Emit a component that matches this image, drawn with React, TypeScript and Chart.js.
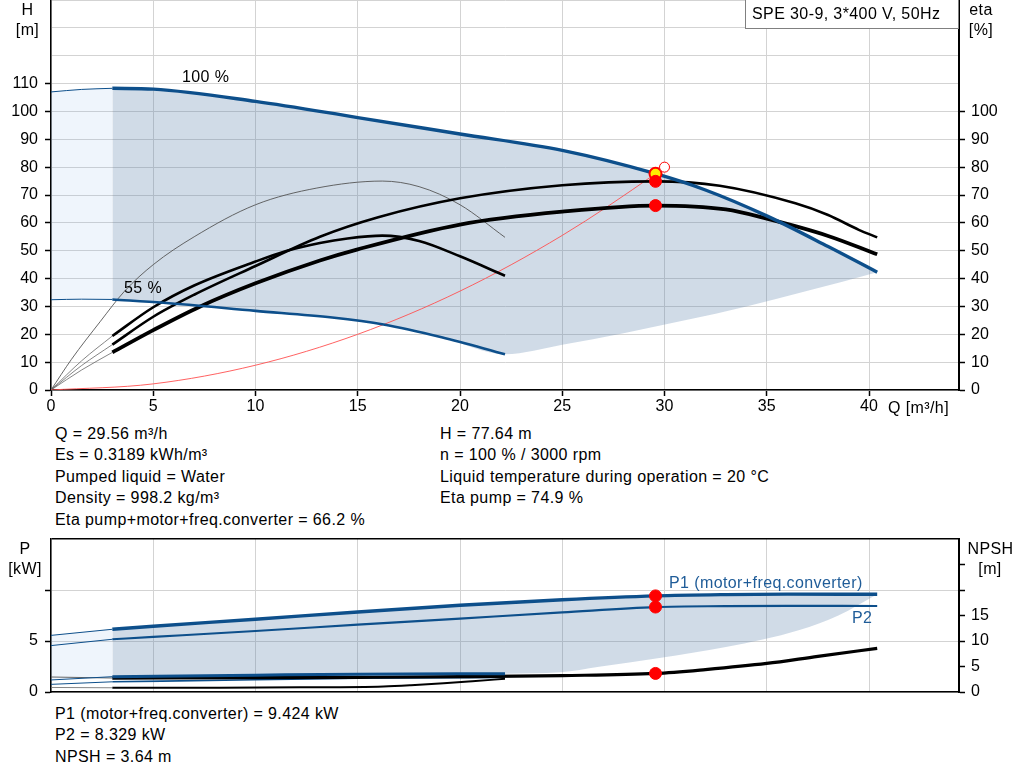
import React, { useEffect, useRef } from "react";
import { Chart, registerables } from "chart.js";

Chart.register(...registerables);

// ---------------- data ----------------
const xTicks = [0, 5, 10, 15, 20, 25, 30, 35, 40];
const hTicks = [0, 10, 20, 30, 40, 50, 60, 70, 80, 90, 100, 110, 120, 130, 140];
const etaTicks = [0, 10, 20, 30, 40, 50, 60, 70, 80, 90, 100];
const pTicks = [0, 5, 10, 15];
const npshTicks = [0, 5, 10, 15, 20, 25, 30];

// H curves
const qH100 = [3, 5, 10, 15, 20, 25, 29.56, 32, 35, 38, 40.4];
const h100 = [108.3, 108, 103.6, 97.8, 91.9, 86, 77.64, 71.8, 62.5, 51.5, 42.3];
const qH100Ext = [0, 1.5, 3];
const h100Ext = [107, 107.9, 108.3];
const qH55 = [3, 5.5, 10, 13.75, 16.26, 19.1, 22.2];
const h55 = [32.5, 31.3, 28.4, 26, 23.5, 18.9, 12.8];
const qH55Ext = [0, 1.5, 3];
const h55Ext = [32.4, 32.6, 32.5];
const qHMin = [22.2, 25, 28, 31, 34, 37, 40.4];
const hMin = [12.8, 16.2, 20.4, 25, 30, 35.6, 42.3];

// eta curves
const qEtaP55 = [0, 1, 2.4, 3.6, 5, 7, 10, 13, 16.2, 18, 20, 22.2];
const etaP55 = [0, 11, 24.5, 35.5, 45, 55, 66.5, 72.5, 75, 73, 66.5, 54.8];
const qEtaT55 = [3, 5, 7, 10, 11.5, 13.15, 14.5, 16.2, 18, 20, 22.2];
const etaT55 = [19.4, 29.7, 37.5, 46.1, 49.9, 52.8, 54.4, 55.4, 53.5, 48, 41];
const qEtaP100 = [3, 5, 7, 10, 13.15, 16, 20, 25, 29.56, 32.7, 36.4, 38, 39.5, 40.4];
const etaP100 = [16.3, 26.3, 34.2, 44.5, 55, 62, 68.8, 73.5, 74.9, 73.3, 67, 62.8, 57.5, 54.8];
const qEtaT100 = [3, 5, 7.3, 10, 13.15, 15, 20, 25, 29.56, 33, 35, 38, 40.4];
const etaT100 = [13.5, 21.5, 30, 38.3, 46.5, 50.5, 59.4, 64, 66.2, 64.8, 61.5, 55.3, 48.7];
const qEtaExt = [0, 1.5, 3];
const etaT55Ext = [0, 10.5, 19.4];
const etaP100Ext = [0, 8.8, 16.3];
const etaT100Ext = [0, 7.2, 13.5];

// system curve
const qSys = [0, 5, 10, 15, 20, 25, 29.56, 30];
const hSys = [0, 2.2, 8.9, 20, 35.5, 55.5, 77.64, 80];

// operating point
const qOp = 29.56;
const hOp = 77.64;
const etaPOp = 74.9;
const etaTOp = 66.2;
const qSysEnd = 30;
const hSysEnd = 80;

// power / NPSH
const qP100 = [3, 5, 10, 15, 20, 25, 29.56, 33, 36, 40.4];
const p1_100 = [6.15, 6.45, 7.13, 7.85, 8.5, 9.05, 9.424, 9.55, 9.6, 9.58];
const p2_100 = [5.17, 5.4, 5.98, 6.6, 7.2, 7.8, 8.329, 8.42, 8.45, 8.43];
const qPExt = [0, 3];
const p1_100Ext = [5.55, 6.15];
const p2_100Ext = [4.55, 5.17];
const qP55 = [3, 10, 15, 22.2];
const p1_55 = [1.5, 1.65, 1.75, 1.8];
const p2_55 = [1.0, 1.2, 1.35, 1.42];
const p1_55Ext = [1.18, 1.5];
const p2_55Ext = [0.75, 1.0];
const qPMin = [22.2, 24.9, 26.8, 29.75, 33, 36.6, 38.5, 40.4];
const pMin = [1.8, 1.93, 2.48, 3.33, 4.4, 6.08, 7.5, 9.58];
const qNpsh100 = [3, 10, 15, 20, 25, 29.56, 32, 35, 37.5, 40.4];
const npsh100 = [2.74, 2.8, 2.88, 3.0, 3.22, 3.64, 4.4, 5.6, 7.0, 8.55];
const npsh100Ext = [2.94, 2.74];
const qNpsh55 = [3, 8, 12.2, 16.26, 17.6, 19.2, 20.6, 22.2];
const npsh55 = [0.83, 0.85, 0.92, 1.1, 1.33, 1.7, 2.1, 2.59];
const npsh55Ext = [0.89, 0.83];
const p1Op = 9.424;
const p2Op = 8.329;
const npshOp = 3.64;

const infoLeft = [
  "Q = 29.56 m³/h",
  "Es = 0.3189 kWh/m³",
  "Pumped liquid = Water",
  "Density = 998.2 kg/m³",
  "Eta pump+motor+freq.converter = 66.2 %",
];
const infoRight = [
  "H = 77.64 m",
  "n = 100 % / 3000 rpm",
  "Liquid temperature during operation = 20 °C",
  "Eta pump = 74.9 %",
];
const infoBottom = [
  "P1 (motor+freq.converter) = 9.424 kW",
  "P2 = 8.329 kW",
  "NPSH = 3.64 m",
];

// ---------------- styling ----------------
const FONT = "'Liberation Sans', Arial, Helvetica, sans-serif";
const BLUE = "#0d4f8b";
const LABEL_BLUE = "#1f5c98";
const SHADE = "rgba(90,130,170,0.285)";
const LIGHT = "rgba(120,170,230,0.12)";
const GRID = "#d3d3d3";
const RED = "#ff0000";
const tickFont = { family: FONT, size: 16 };

const pts = (xs: number[], ys: number[]) => xs.map((x, i) => ({ x, y: ys[i] }));

function lineDs(data: any[], color: string, width: number, yAxisID = "y", order = 5, extra: any = {}) {
  return {
    type: "line",
    data,
    yAxisID,
    borderColor: color,
    backgroundColor: color,
    borderWidth: width,
    pointRadius: 0,
    pointHoverRadius: 0,
    fill: false,
    cubicInterpolationMode: "monotone",
    order,
    ...extra,
  };
}

function hiddenDs(data: any[], yAxisID: string, fill: any, color: string | undefined, order: number) {
  return {
    type: "line",
    data,
    yAxisID,
    borderColor: "rgba(0,0,0,0)",
    backgroundColor: color || "rgba(0,0,0,0)",
    borderWidth: 1,
    pointRadius: 0,
    pointHoverRadius: 0,
    fill,
    cubicInterpolationMode: "monotone",
    order,
  };
}

function pointDs(x: number, y: number, yAxisID: string, fillColor: string, radius = 6, borderWidth = 1) {
  return {
    type: "line",
    data: [{ x, y }],
    yAxisID,
    showLine: false,
    pointRadius: radius,
    pointHoverRadius: radius,
    pointBackgroundColor: fillColor,
    pointBorderColor: RED,
    pointBorderWidth: borderWidth,
    borderColor: RED,
    backgroundColor: fillColor,
    order: 0,
  };
}

const setTicks = (vals: number[]) => (axis: any) => {
  axis.ticks = vals.map((value) => ({ value }));
};

// fix an axis' thickness and remove the label overflow padding
const fixSize = (dim: "width" | "height", size: number) => (s: any) => {
  s[dim] = size;
  s.paddingTop = 0;
  s.paddingBottom = 0;
  s.paddingLeft = 0;
  s.paddingRight = 0;
};

function xScale(height: number, showLabels: boolean) {
  return {
    type: "linear",
    position: "bottom",
    min: 0,
    max: 44.4,
    afterBuildTicks: setTicks(xTicks),
    afterFit: fixSize("height", height),
    grid: {
      color: GRID,
      lineWidth: 1,
      drawTicks: showLabels,
      tickColor: "#000",
      tickLength: 6,
      tickWidth: 1.5,
    },
    border: { color: "#000", width: 1.5 },
    ticks: {
      display: showLabels,
      font: tickFont,
      color: "#000",
      padding: 1,
      maxRotation: 0,
      autoSkip: false,
    },
  };
}

function buildTop(canvas: HTMLCanvasElement) {
  const datasets: any[] = [
    // 0,1: dark shaded operating area
    hiddenDs(pts(qH100, h100), "y", 1, SHADE, 20),
    hiddenDs([...pts(qH55, h55), ...pts(qHMin, hMin).slice(1)], "y", false, undefined, 21),
    // 2,3: light area (extension)
    hiddenDs(pts(qH100Ext, h100Ext), "y", 3, LIGHT, 20),
    hiddenDs(pts(qH55Ext, h55Ext), "y", false, undefined, 21),
    // lines
    lineDs(pts(qSys, hSys), "#ff5050", 0.9, "y", 6),
    lineDs(pts(qEtaP55, etaP55), "#555555", 0.9, "y2", 6),
    lineDs(pts(qEtaExt, etaT55Ext), "#666666", 0.8, "y2", 6),
    lineDs(pts(qEtaExt, etaP100Ext), "#666666", 0.8, "y2", 6),
    lineDs(pts(qEtaExt, etaT100Ext), "#666666", 0.8, "y2", 6),
    lineDs(pts(qH100Ext, h100Ext), BLUE, 1, "y", 5),
    lineDs(pts(qH55Ext, h55Ext), BLUE, 1, "y", 5),
    lineDs(pts(qEtaT55, etaT55), "#000", 2.6, "y2", 4),
    lineDs(pts(qEtaP100, etaP100), "#000", 2.6, "y2", 4),
    lineDs(pts(qEtaT100, etaT100), "#000", 3.8, "y2", 4),
    lineDs(pts(qH55, h55), BLUE, 2.6, "y", 3),
    lineDs(pts(qH100, h100), BLUE, 3.4, "y", 3),
    // points
    pointDs(qSysEnd, hSysEnd, "y", "#ffffff", 5, 1),
    pointDs(qOp, etaTOp, "y2", RED),
    pointDs(qOp, etaPOp, "y2", RED),
    pointDs(qOp, hOp, "y", "#ffee00", 6, 2),
  ];

  return new Chart(canvas, {
    type: "line",
    data: { datasets },
    options: {
      responsive: false,
      maintainAspectRatio: false,
      animation: false,
      events: [],
      layout: { autoPadding: false, padding: { top: 0, left: 0, right: 0, bottom: 0 } },
      plugins: { legend: { display: false }, tooltip: { enabled: false } },
      scales: {
        x: xScale(30, true),
        y: {
          type: "linear",
          position: "left",
          min: 0,
          max: 140,
          afterBuildTicks: setTicks(hTicks),
          afterFit: fixSize("width", 51),
          grid: {
            color: GRID,
            lineWidth: 1,
            tickColor: (c: any) => (c.tick && c.tick.value > 110 ? "rgba(0,0,0,0)" : "#000"),
            tickLength: 6,
            tickWidth: 1.5,
          },
          border: { color: "#000", width: 1.5 },
          ticks: {
            font: tickFont,
            color: "#000",
            padding: 7,
            autoSkip: false,
            callback: (v: any) => (v <= 110 ? String(v) : ""),
          },
        },
        y2: {
          type: "linear",
          position: "right",
          min: 0,
          max: 140,
          afterBuildTicks: setTicks(etaTicks),
          afterFit: fixSize("width", 65),
          grid: { drawOnChartArea: false, tickColor: "#000", tickLength: 6, tickWidth: 1.5 },
          border: { color: "#000", width: 2 },
          ticks: { font: tickFont, color: "#000", padding: 6, autoSkip: false },
        },
      },
    } as any,
  });
}

function buildBottom(canvas: HTMLCanvasElement) {
  const datasets: any[] = [
    hiddenDs(pts(qP100, p1_100), "y", 1, SHADE, 20),
    hiddenDs([...pts(qP55, p1_55), ...pts(qPMin, pMin).slice(1)], "y", false, undefined, 21),
    hiddenDs(pts(qPExt, p1_100Ext), "y", 3, LIGHT, 20),
    hiddenDs(pts(qPExt, p1_55Ext), "y", false, undefined, 21),
    lineDs(pts(qPExt, p1_100Ext), BLUE, 1, "y", 6),
    lineDs(pts(qPExt, p2_100Ext), BLUE, 1, "y", 6),
    lineDs(pts(qPExt, p1_55Ext), BLUE, 1, "y", 6),
    lineDs(pts(qPExt, p2_55Ext), BLUE, 1, "y", 6),
    lineDs(pts(qPExt, npsh100Ext), "#555", 0.9, "y2", 6),
    lineDs(pts(qPExt, npsh55Ext), "#777", 0.9, "y2", 6),
    lineDs(pts(qP55, p2_55), BLUE, 1.6, "y", 5),
    lineDs(pts(qNpsh55, npsh55), "#000", 2, "y2", 4),
    lineDs(pts(qNpsh100, npsh100), "#000", 3.2, "y2", 4),
    lineDs(pts(qP55, p1_55), BLUE, 3, "y", 3),
    lineDs(pts(qP100, p2_100), BLUE, 2.2, "y", 3),
    lineDs(pts(qP100, p1_100), BLUE, 3.4, "y", 3),
    pointDs(qOp, npshOp, "y2", RED),
    pointDs(qOp, p2Op, "y", RED),
    pointDs(qOp, p1Op, "y", RED),
  ];

  return new Chart(canvas, {
    type: "line",
    data: { datasets },
    options: {
      responsive: false,
      maintainAspectRatio: false,
      animation: false,
      events: [],
      layout: { autoPadding: false, padding: { top: 9, left: 0, right: 0, bottom: 0 } },
      plugins: { legend: { display: false }, tooltip: { enabled: false } },
      scales: {
        x: xScale(8, false),
        y: {
          type: "linear",
          position: "left",
          min: 0,
          max: 15,
          afterBuildTicks: setTicks(pTicks),
          afterFit: fixSize("width", 51),
          grid: {
            color: (c: any) => (c.tick && c.tick.value === 15 ? "#000" : GRID),
            lineWidth: (c: any) => (c.tick && c.tick.value === 15 ? 1.5 : 1),
            tickColor: (c: any) => (c.tick && c.tick.value > 10 ? "rgba(0,0,0,0)" : "#000"),
            tickLength: 6,
            tickWidth: 1.5,
          },
          border: { color: "#000", width: 1.5 },
          ticks: {
            font: tickFont,
            color: "#000",
            padding: 7,
            autoSkip: false,
            callback: (v: any) => (v <= 5 ? String(v) : ""),
          },
        },
        y2: {
          type: "linear",
          position: "right",
          min: 0,
          max: 30,
          afterBuildTicks: setTicks(npshTicks),
          afterFit: fixSize("width", 65),
          grid: {
            drawOnChartArea: false,
            tickColor: (c: any) => (c.tick && c.tick.value > 25 ? "rgba(0,0,0,0)" : "#000"),
            tickLength: 6,
            tickWidth: 1.5,
          },
          border: { color: "#000", width: 2 },
          ticks: {
            font: tickFont,
            color: "#000",
            padding: 6,
            autoSkip: false,
            callback: (v: any) => (v <= 15 ? String(v) : ""),
          },
        },
      },
    } as any,
  });
}

function Txt(props: { x: number; yc: number; text: string; color?: string; center?: boolean }) {
  const { x, yc, text, color = "#000", center = false } = props;
  return (
    <div
      style={{
        position: "absolute",
        left: center ? x - 60 : x,
        width: center ? 120 : undefined,
        top: yc - 8.9,
        textAlign: center ? "center" : "left",
        fontFamily: FONT,
        fontSize: 16,
        letterSpacing: "0.4px",
        lineHeight: "18px",
        color,
        whiteSpace: "nowrap",
      }}
    >
      {text}
    </div>
  );
}

export default function App() {
  const topRef = useRef<HTMLCanvasElement>(null);
  const botRef = useRef<HTMLCanvasElement>(null);

  useEffect(() => {
    const c1 = buildTop(topRef.current as HTMLCanvasElement);
    const c2 = buildBottom(botRef.current as HTMLCanvasElement);
    return () => {
      c1.destroy();
      c2.destroy();
    };
  }, []);

  return (
    <div
      style={{
        position: "fixed",
        left: 0,
        top: 0,
        width: 1024,
        height: 781,
        background: "#fff",
        overflow: "hidden",
      }}
    >
      <canvas
        ref={topRef}
        width={1024}
        height={420}
        style={{ position: "absolute", left: 0, top: 0, width: 1024, height: 420 }}
      />
      <canvas
        ref={botRef}
        width={1024}
        height={170}
        style={{ position: "absolute", left: 0, top: 530, width: 1024, height: 170 }}
      />

      {/* axis titles */}
      <Txt x={27.5} yc={10} text="H" center />
      <Txt x={27.5} yc={30} text="[m]" center />
      <Txt x={981} yc={10} text="eta" center />
      <Txt x={981} yc={30} text="[%]" center />
      <Txt x={888} yc={408} text="Q [m³/h]" />
      <Txt x={25} yc={548.5} text="P" center />
      <Txt x={25} yc={569} text="[kW]" center />
      <Txt x={990.5} yc={548.5} text="NPSH" center />
      <Txt x={990} yc={569} text="[m]" center />

      {/* curve labels */}
      <Txt x={182} yc={76.5} text="100 %" />
      <Txt x={124} yc={287.5} text="55 %" />
      <Txt x={669} yc={583} text="P1 (motor+freq.converter)" color={LABEL_BLUE} />
      <Txt x={852} yc={618} text="P2" color={LABEL_BLUE} />

      {/* title box */}
      <div
        style={{
          position: "absolute",
          left: 745,
          top: -1,
          width: 212,
          height: 28,
          border: "1px solid #808080",
          background: "#fff",
        }}
      />
      <Txt x={752} yc={13.5} text="SPE 30-9, 3*400 V, 50Hz" />

      {/* info text */}
      {infoLeft.map((t, i) => (
        <Txt key={"l" + i} x={55} yc={433.5 + i * 21.5} text={t} />
      ))}
      {infoRight.map((t, i) => (
        <Txt key={"r" + i} x={440} yc={433.5 + i * 21.5} text={t} />
      ))}
      {infoBottom.map((t, i) => (
        <Txt key={"b" + i} x={55} yc={713.5 + i * 21.5} text={t} />
      ))}
    </div>
  );
}
